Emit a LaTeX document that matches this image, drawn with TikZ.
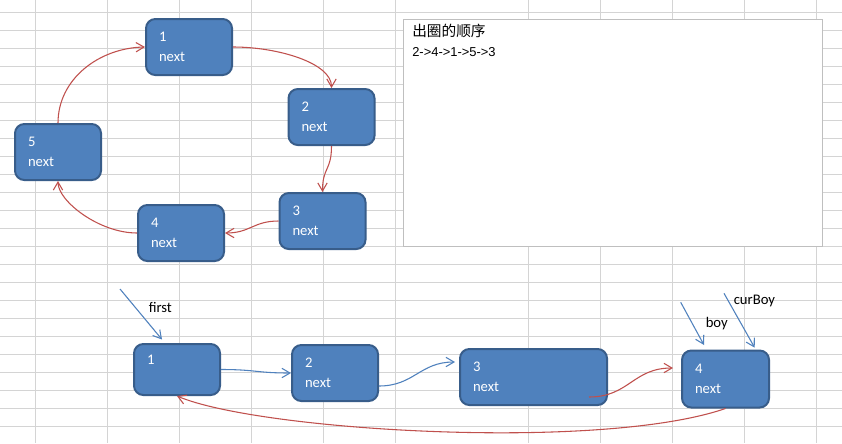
\documentclass[tikz,border=0pt]{standalone}
\usepackage{fontspec}
\setmainfont{Carlito}
\newfontfamily\cjk{Noto Sans CJK SC}
\newfontfamily\arialf{Liberation Sans}
\usetikzlibrary{arrows.meta,calc}
\definecolor{nodefill}{HTML}{4F81BD}
\definecolor{nodeline}{HTML}{385D8A}
\definecolor{redline}{HTML}{C0504D}
\definecolor{blueline}{HTML}{4F81BD}
\definecolor{gridc}{HTML}{D4D4D4}
\definecolor{boxline}{HTML}{BFBFBF}
\begin{document}
\begin{tikzpicture}[x=0.75pt,y=-0.75pt,
  gridline/.style={gridc, line width=0.75pt},
  box/.style={draw=nodeline, fill=nodefill, line width=1.5pt, rounded corners=7pt,
    text=white, align=left, inner xsep=9.75pt, inner ysep=0pt,
    font=\fontsize{11}{15}\selectfont, minimum height=42pt, text width=45pt},
  redarrow/.style={redline, line width=0.8pt, -{Straight Barb[length=6pt,width=7pt]}},
  bluearrow/.style={blueline, line width=0.8pt, -{Straight Barb[length=6pt,width=7pt]}},
  lbl/.style={font=\fontsize{11}{13}\selectfont, inner sep=0pt, anchor=west, text=black}
]
\useasboundingbox (0,0) rectangle (842,443);
\fill[white] (0,0) rectangle (842,443);
% spreadsheet grid
\foreach \x in {35.5,107.5,179.5,251.5,323.5,395.5,528.5,600.5,672.5,744.5,816.5}
  \draw[gridline] (\x,0) -- (\x,443);
\foreach \k in {0,...,23}
  \draw[gridline] (0,{12.5+18*\k}) -- (842,{12.5+18*\k});
% text box
\node[draw=boxline, fill=white, line width=0.75pt, anchor=north west, inner sep=0pt,
  minimum width=314.25pt, minimum height=170.25pt] (tb) at (402.5,18.5) {};
\node[lbl, font=\cjk\fontsize{11}{13}\selectfont] (title) at (412,31) {出圈的顺序};
\node[lbl, font=\arialf\fontsize{9.7}{12}\selectfont] (order) at (412,52) {2->4->1->5->3};
% ring
\node[box] (t1) at (189,47) {1\\next};
\node[box] (t2) at (331.5,117) {2\\next};
\node[box] (t3) at (322.5,221) {3\\next};
\node[box] (t4) at (181,233) {4\\next};
\node[box] (t5) at (58,152) {5\\next};
\draw[redarrow] (t1.east) .. controls +(45,0) and +(0,-25) .. (t2.north);
\draw[redarrow] (t2.south) .. controls +(0,25) and +(0,-25) .. (t3.north);
\draw[redarrow] (t3.west) .. controls +(-25,0) and +(25,0) .. (t4.east);
\draw[redarrow] (t4.west) .. controls +(-38,0) and +(0,20) .. (t5.south);
\draw[redarrow] (t5.north) .. controls +(0,-44) and +(-46,1) .. (t1.west);
% list
\node[box, minimum height=38.25pt] (b1) at (177,369.5) {1\\\phantom{next}};
\node[box] (b2) at (335,373) {2\\next};
\node[box, text width=90.75pt] (b3) at (533.5,377) {3\\next};
\node[box, text width=45.75pt, minimum height=42.75pt] (b4) at (725.5,379) {4\\next};
\draw[bluearrow] (b1.east) .. controls +(35,0) and +(-35,0) .. (b2.west);
\draw[bluearrow] ($(b2.east)+(0,13)$) .. controls +(35,0) and +(-35,0) .. ($(b3.west)+(-4,-15)$);
\draw[redarrow] ($(b3.south east)+(-19,-9)$) .. controls +(40,0) and +(-40,0) .. ($(b4.west)+(-8,-11)$);
\draw[redarrow] (b4.south) .. controls +(-125,43) and +(83,35) .. (b1.south);
% pointers
\coordinate (firstS) at (120,289);
\coordinate (firstE) at (162,339.5);
\coordinate (boyS) at (680.7,302.3);
\coordinate (boyE) at (704,345);
\coordinate (cbS) at (724,293.3);
\coordinate (cbE) at (754.7,347.7);
\draw[bluearrow] (firstS) -- (firstE);
\draw[bluearrow] (boyS) -- (boyE);
\draw[bluearrow] (cbS) -- (cbE);
\node[lbl] (firstlbl) at (148.5,307) {first};
\node[lbl] (boylbl) at (705.5,324) {boy};
\node[lbl] (cblbl) at (733.5,301) {curBoy};
\end{tikzpicture}
\end{document}
